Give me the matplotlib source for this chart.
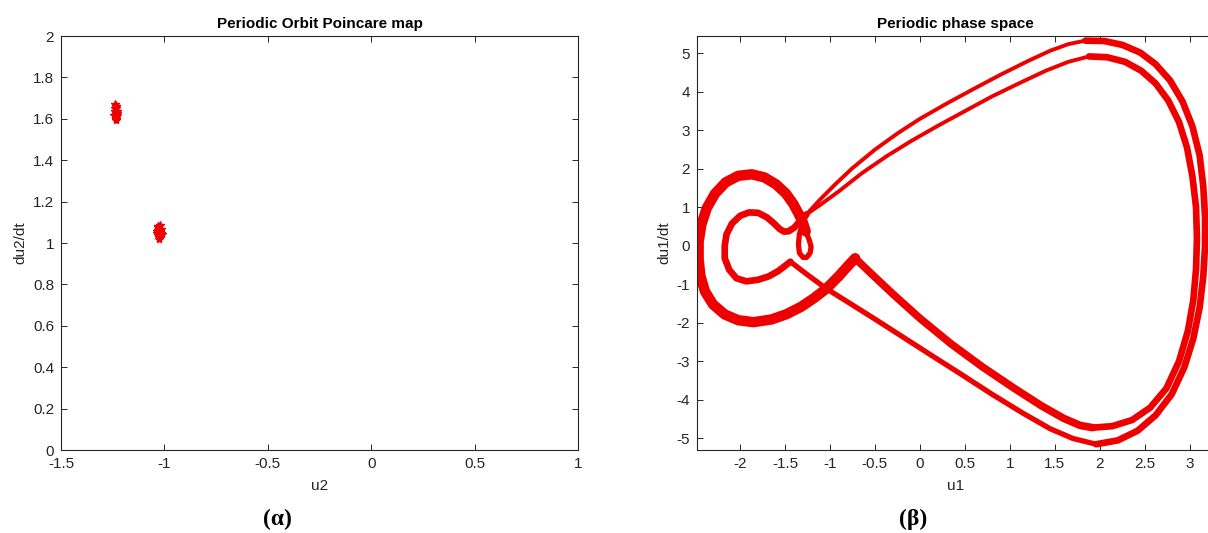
import matplotlib
matplotlib.use("Agg")
import matplotlib.pyplot as plt

plt.rcParams['font.family'] = ['Liberation Sans', 'DejaVu Sans']
plt.rcParams['axes.unicode_minus'] = False

# --- (a) Poincare map: two clusters of section points
c1_u2 = [-1.240, -1.236, -1.232, -1.238, -1.234, -1.230, -1.242, -1.236, -1.233,
         -1.239, -1.235, -1.231, -1.237, -1.234, -1.240, -1.229, -1.236, -1.233]
c1_du2 = [1.670, 1.660, 1.650, 1.640, 1.630, 1.640, 1.620, 1.610, 1.600,
          1.620, 1.630, 1.620, 1.650, 1.595, 1.640, 1.630, 1.610, 1.660]
c2_u2 = [-1.030, -1.025, -1.020, -1.035, -1.028, -1.015, -1.032, -1.022, -1.026,
         -1.018, -1.036, -1.024, -1.029, -1.021, -1.012, -1.027, -1.033, -1.023]
c2_du2 = [1.080, 1.070, 1.060, 1.060, 1.050, 1.050, 1.040, 1.040, 1.030,
          1.070, 1.050, 1.020, 1.065, 1.055, 1.045, 1.035, 1.075, 1.085]

# --- (b) phase space, one period-2 orbit split into pieces
outer_left_u1 = [-0.72, -0.80, -0.90, -1.04, -1.18, -1.32, -1.48, -1.65, -1.85, -2.02,
                 -2.17, -2.30, -2.39, -2.44, -2.46, -2.46, -2.43, -2.37, -2.28, -2.16,
                 -2.02, -1.87, -1.73, -1.60, -1.49, -1.41, -1.35, -1.30, -1.27]
outer_left_du1 = [-0.32, -0.52, -0.78, -1.11, -1.36, -1.58, -1.77, -1.91, -1.98, -1.93,
                  -1.78, -1.52, -1.18, -0.78, -0.35, 0.10, 0.55, 0.98, 1.35, 1.65,
                  1.82, 1.86, 1.78, 1.60, 1.36, 1.10, 0.84, 0.60, 0.38]
small_loop_u1 = [-1.27, -1.23, -1.21, -1.22, -1.26, -1.30, -1.34, -1.35, -1.34, -1.31, -1.28, -1.26]
small_loop_du1 = [0.38, 0.15, -0.02, -0.18, -0.30, -0.30, -0.18, 0.05, 0.30, 0.55, 0.72, 0.82]
inner_left_u1 = [-1.44, -1.50, -1.58, -1.68, -1.80, -1.93, -2.04, -2.12, -2.17, -2.17,
                 -2.15, -2.09, -2.00, -1.90, -1.80, -1.70, -1.62, -1.56, -1.51, -1.46,
                 -1.40, -1.33, -1.26]
inner_left_du1 = [-0.41, -0.52, -0.66, -0.79, -0.88, -0.92, -0.84, -0.62, -0.32, 0.00,
                  0.30, 0.58, 0.78, 0.87, 0.86, 0.74, 0.58, 0.44, 0.37, 0.38,
                  0.47, 0.65, 0.82]
upper_outer_u1 = [-1.26, -1.12, -0.95, -0.75, -0.50, -0.25, 0.00, 0.30, 0.60, 0.90,
                  1.20, 1.45, 1.65, 1.84]
upper_outer_du1 = [0.82, 1.18, 1.58, 2.02, 2.50, 2.92, 3.30, 3.70, 4.08, 4.45,
                   4.80, 5.07, 5.24, 5.33]
upper_inner_u1 = [-1.26, -1.10, -0.90, -0.65, -0.37, -0.10, 0.20, 0.50, 0.80, 1.10,
                  1.40, 1.65, 1.88]
upper_inner_du1 = [0.82, 1.08, 1.42, 1.88, 2.33, 2.72, 3.12, 3.50, 3.88, 4.22,
                   4.55, 4.78, 4.92]
right_outer_u1 = [1.84, 2.05, 2.25, 2.45, 2.62, 2.78, 2.92, 3.03, 3.11, 3.15, 3.17,
                  3.17, 3.15, 3.11, 3.04, 2.94, 2.80, 2.62, 2.42, 2.20, 1.96]
right_outer_du1 = [5.33, 5.32, 5.22, 5.02, 4.72, 4.30, 3.75, 3.10, 2.35, 1.55, 0.75,
                   0.00, -0.80, -1.60, -2.40, -3.15, -3.85, -4.40, -4.80, -5.05, -5.15]
right_inner_u1 = [1.88, 2.08, 2.28, 2.46, 2.62, 2.76, 2.88, 2.97, 3.03, 3.07, 3.08,
                  3.07, 3.04, 2.98, 2.88, 2.74, 2.56, 2.36, 2.14, 1.92]
right_inner_du1 = [4.92, 4.90, 4.78, 4.55, 4.22, 3.78, 3.22, 2.55, 1.80, 1.00, 0.20,
                   -0.60, -1.40, -2.20, -3.00, -3.70, -4.20, -4.52, -4.68, -4.72]
lower_outer_u1 = [-1.44, -1.25, -1.04, -0.80, -0.50, -0.20, 0.10, 0.45, 0.80, 1.15,
                  1.45, 1.70, 1.96]
lower_outer_du1 = [-0.41, -0.75, -1.11, -1.46, -1.90, -2.35, -2.80, -3.32, -3.85, -4.35,
                   -4.75, -5.00, -5.15]
apex_u1 = [-0.72, -0.55, -0.30, 0.00, 0.35, 0.70, 1.05, 1.35, 1.60, 1.78, 1.92]
apex_du1 = [-0.32, -0.70, -1.25, -1.88, -2.55, -3.15, -3.70, -4.15, -4.48, -4.66, -4.72]

a_xticks = [-1.5, -1, -0.5, 0, 0.5, 1]
a_xlabels = ['-1.5', '-1', '-0.5', '0', '0.5', '1']
a_yticks = [0, 0.2, 0.4, 0.6, 0.8, 1, 1.2, 1.4, 1.6, 1.8, 2]
a_ylabels = ['0', '0.2', '0.4', '0.6', '0.8', '1', '1.2', '1.4', '1.6', '1.8', '2']
b_xticks = [-2, -1.5, -1, -0.5, 0, 0.5, 1, 1.5, 2, 2.5, 3]
b_xlabels = ['-2', '-1.5', '-1', '-0.5', '0', '0.5', '1', '1.5', '2', '2.5', '3']
b_yticks = [-5, -4, -3, -2, -1, 0, 1, 2, 3, 4, 5]
b_ylabels = ['-5', '-4', '-3', '-2', '-1', '0', '1', '2', '3', '4', '5']

red = '#ee0000'
grey = '#262626'

fig = plt.figure(figsize=(12.08, 5.33), dpi=100)
ax1 = fig.add_axes([0.0505, 0.1557, 0.428, 0.7767])
ax2 = fig.add_axes([0.577, 0.1557, 0.428, 0.7767])


def matlab_look(ax):
    for s in ax.spines.values():
        s.set_color(grey)
        s.set_linewidth(0.8)
    ax.tick_params(direction='in', length=4, width=0.7, color=grey,
                   labelcolor=grey, labelsize=11, top=True, right=True, pad=5)


# Poincare map
ax1.plot(c1_u2, c1_du2, linestyle='none', marker='*', markersize=6, color=red)
ax1.plot(c2_u2, c2_du2, linestyle='none', marker='*', markersize=6, color=red)
ax1.set_xlim(-1.5, 1)
ax1.set_ylim(0, 2)
ax1.set_xticks(a_xticks)
ax1.set_xticklabels(a_xlabels)
ax1.set_yticks(a_yticks)
ax1.set_yticklabels(a_ylabels)
ax1.set_xlabel('u2', fontsize=11, color=grey, labelpad=6)
ax1.set_ylabel('du2/dt', fontsize=11, color=grey)
ax1.set_title('Periodic Orbit Poincare map', fontsize=11, fontweight='bold', pad=6)
matlab_look(ax1)

# phase space
kw = dict(color=red, solid_capstyle='round', solid_joinstyle='round')
ax2.plot(outer_left_u1, outer_left_du1, lw=7.5, **kw)
ax2.plot(small_loop_u1, small_loop_du1, lw=3.8, **kw)
ax2.plot(inner_left_u1, inner_left_du1, lw=4.8, **kw)
ax2.plot(upper_outer_u1, upper_outer_du1, lw=2.8, **kw)
ax2.plot(upper_inner_u1, upper_inner_du1, lw=2.8, **kw)
ax2.plot(right_outer_u1, right_outer_du1, lw=4.8, **kw)
ax2.plot(right_inner_u1, right_inner_du1, lw=4.8, **kw)
ax2.plot(lower_outer_u1, lower_outer_du1, lw=3.8, **kw)
ax2.plot(apex_u1, apex_du1, lw=5.5, **kw)
ax2.set_xlim(-2.478, 3.27)
ax2.set_ylim(-5.30, 5.45)
ax2.set_xticks(b_xticks)
ax2.set_xticklabels(b_xlabels)
ax2.set_yticks(b_yticks)
ax2.set_yticklabels(b_ylabels)
ax2.set_xlabel('u1', fontsize=11, color=grey, labelpad=6)
ax2.set_ylabel('du1/dt', fontsize=11, color=grey)
ax2.set_title('Periodic phase space', fontsize=11, fontweight='bold', pad=6)
matlab_look(ax2)

fig.text(0.230, 0.026, '(α)', fontsize=17, fontweight='bold',
         family=['Liberation Serif', 'DejaVu Serif'], ha='center', va='center')
fig.text(0.756, 0.026, '(β)', fontsize=17, fontweight='bold',
         family=['Liberation Serif', 'DejaVu Serif'], ha='center', va='center')

fig.savefig('out.png', dpi=100)
